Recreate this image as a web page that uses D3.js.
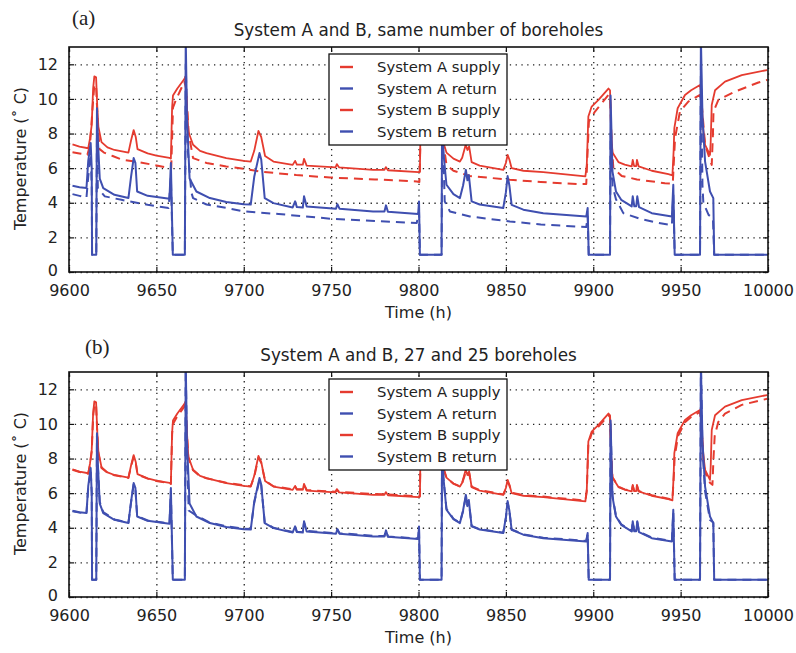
<!DOCTYPE html>
<html>
<head>
<meta charset="utf-8">
<script src="https://cdn.jsdelivr.net/npm/d3@7"></script>
<style>
body { margin: 0; background: #fff; }
svg text { font-family: "DejaVu Sans", sans-serif; fill: #222; }
</style>
</head>
<body>
<script>
// axis ticks
var xTicks = [9600, 9650, 9700, 9750, 9800, 9850, 9900, 9950, 10000];
var yTicks = [0, 2, 4, 6, 8, 10, 12];
var legendLabels = ["System A supply", "System A return", "System B supply", "System B return"];
var panelTitles = ["System A and B, same number of boreholes", "System A and B, 27 and 25 boreholes"];
var panelTags = ["(a)", "(b)"];

// System B supply [time h, temperature C] - same in both panels
var bSupply = [[9602,7.38],[9606,7.25],[9611,7.15],[9612,7.7],[9613,8.5],[9613.8,10.6],[9614.5,11.3],[9615.5,11.25],[9616.2,9.5],[9616.8,8.4],[9618.6,7.5],[9622,7.2],[9626,7.05],[9634,6.9],[9635.5,7.6],[9637,8.2],[9638.2,7.8],[9639.2,7.1],[9645,6.85],[9650,6.72],[9657.5,6.6],[9658.3,6.55],[9659,9.5],[9659.5,10.2],[9662,10.6],[9666,11.15],[9666.7,11.3],[9667.5,9.5],[9668.3,8.1],[9671,7.35],[9675,7.0],[9678.7,6.87],[9690,6.58],[9700,6.42],[9704,6.38],[9706,7.0],[9708.4,8.15],[9710,7.8],[9712.2,6.7],[9717,6.38],[9728,6.19],[9729.4,6.42],[9730.4,6.2],[9733.8,6.2],[9734.5,6.54],[9736,6.15],[9752.5,6.04],[9753.3,6.23],[9754.5,6.05],[9774,5.9],[9780.5,5.9],[9781.3,6.06],[9782.5,5.88],[9800,5.77],[9800.8,5.8],[9801.3,9.5],[9802,10.2],[9812.5,10.8],[9813.3,8.0],[9814.5,7.4],[9816,6.9],[9820,6.55],[9823.7,6.38],[9825,6.6],[9827,7.35],[9828,7.05],[9829,7.25],[9830.4,6.35],[9835,6.15],[9848.5,5.9],[9850,6.3],[9851,6.77],[9852,6.5],[9853.3,6.0],[9860,5.85],[9871.4,5.77],[9895.5,5.52],[9896.3,6.2],[9897.2,8.98],[9899.1,9.56],[9903,9.94],[9908.7,10.6],[9909.6,10.5],[9910.3,8.0],[9911,6.9],[9914.4,6.35],[9918,6.2],[9922,6.1],[9922.6,6.48],[9923.4,6.12],[9924.6,6.12],[9925,6.48],[9926,6.1],[9933.5,5.85],[9943,5.65],[9945.3,5.58],[9946,7.0],[9946.4,8.31],[9948.3,9.46],[9952.5,10.23],[9956,10.5],[9961.1,10.8],[9961.7,10.3],[9963,8.2],[9964,7.35],[9966.8,6.77],[9967.2,7.5],[9967.8,9.65],[9969.7,10.5],[9975.4,11.0],[9985,11.38],[9999.5,11.67]];

// System B return - same in both panels
var bReturn = [[9602,4.98],[9606,4.9],[9610,4.85],[9611,6.4],[9612.4,7.45],[9613,6.0],[9613.2,1],[9615.6,1],[9616,9.46],[9616.6,7.5],[9617.6,5.4],[9619.6,4.85],[9626,4.46],[9634,4.27],[9635.5,5.5],[9637,6.58],[9638,6.3],[9639,4.65],[9645,4.4],[9657.5,4.23],[9658.3,6.3],[9659.4,1],[9666.3,1],[9666.8,13.5],[9667.5,9],[9669,5.4],[9672.9,4.65],[9680.6,4.27],[9690,4.05],[9700,3.92],[9704,3.9],[9706,5.5],[9709,6.87],[9710,6.5],[9712,4.27],[9717,3.98],[9728,3.73],[9729.4,4.08],[9730.4,3.75],[9733.8,3.72],[9734.5,4.37],[9736,3.79],[9752.8,3.65],[9753.6,3.92],[9754.8,3.66],[9774,3.5],[9780.5,3.5],[9781.4,3.85],[9782.5,3.48],[9799.8,3.35],[9800.3,4.08],[9800.8,1],[9813.2,1],[9813.6,12],[9814.2,6.96],[9816,5.04],[9820,4.5],[9823.7,4.27],[9825.5,5.0],[9827.1,5.9],[9828,5.3],[9828.8,5.6],[9830.4,4.08],[9835,3.9],[9848.5,3.7],[9850,4.6],[9851,5.54],[9852,5.0],[9853.3,3.88],[9860,3.6],[9871.4,3.4],[9896,3.2],[9896.8,3.7],[9897.4,1],[9909.6,1],[9909.9,10.2],[9911,5.8],[9913,4.65],[9916,4.17],[9922,3.79],[9922.6,4.37],[9923.5,3.8],[9924.6,3.8],[9925.2,4.37],[9926.2,3.75],[9933.5,3.4],[9945,3.21],[9945.8,5.04],[9946.6,1],[9961.1,1],[9961.6,13.5],[9962.5,9],[9964,6.38],[9966.8,4.65],[9968.7,4.27],[9969.2,1],[10000,1]];

// System A supply, panel (a)
var aSupplyA = [[9602,6.92],[9606,6.85],[9610.5,6.77],[9612,7.3],[9613.5,9.5],[9614.5,10.8],[9615.5,10.8],[9616.5,8.5],[9617.5,7.1],[9620,6.9],[9625,6.7],[9630,6.5],[9640,6.35],[9647.7,6.2],[9657.5,6.0],[9658.5,6.0],[9659.5,9.5],[9661,9.9],[9666,11.0],[9667,10.6],[9668.5,8.0],[9671,6.58],[9678.7,6.3],[9690,6.1],[9700,5.96],[9710,5.8],[9730,5.6],[9749.4,5.46],[9775,5.35],[9799,5.23],[9800.5,5.2],[9801.5,9.0],[9803,9.8],[9812.5,10.3],[9813.5,8.0],[9816,6.2],[9820,5.85],[9829.4,5.55],[9852.3,5.33],[9870,5.2],[9890.5,5.08],[9896,5.08],[9897.5,8.69],[9901,9.27],[9908.7,10.23],[9909.6,10.2],[9910.5,7.5],[9911.5,6.0],[9916.3,5.55],[9925,5.35],[9941,5.13],[9945.5,5.1],[9946.8,7.73],[9949.6,9.27],[9954.4,9.85],[9961.1,10.23],[9962,9.8],[9964,7.35],[9967.8,6.19],[9968.5,8.0],[9968.8,9.27],[9971.6,9.94],[9981.1,10.42],[9994.5,10.95],[9999.5,11.1]];

// System A return, panel (a)
var aReturnA = [[9602,4.5],[9606,4.4],[9610,4.3],[9611,5.5],[9612.4,6.8],[9613,5],[9613.2,1],[9615.6,1],[9616,8.0],[9616.5,4.85],[9620.5,4.37],[9630,4.17],[9645,3.88],[9657,3.7],[9658.3,5.5],[9659.4,1],[9666.3,1],[9666.8,12],[9668,7],[9670,4.6],[9671,4.27],[9678.7,3.9],[9690,3.7],[9700,3.5],[9720,3.35],[9749.4,3.08],[9775,2.95],[9799,2.83],[9800.3,3.5],[9800.8,1],[9813.2,1],[9813.6,9],[9815,4.08],[9818,3.5],[9829.4,3.21],[9852.3,2.92],[9870,2.75],[9890.5,2.63],[9896,2.6],[9896.8,3.2],[9897.4,1],[9909.6,1],[9909.9,8],[9911,5],[9913,4.2],[9917.2,3.4],[9926,3.1],[9937.3,2.83],[9945,2.7],[9945.8,4.5],[9946.6,1],[9961.1,1],[9961.6,12],[9962.5,5],[9963,4.0],[9966,3.3],[9968.5,3.1],[9969.2,1],[10000,1]];

// System A supply, panel (b)
var aSupplyB = [[9602,7.35],[9606,7.22],[9611,7.12],[9612,7.6],[9613,8.4],[9613.8,10.4],[9614.5,11.15],[9615.5,11.1],[9616.2,9.4],[9616.8,8.3],[9618.6,7.45],[9622,7.18],[9626,7.03],[9634,6.88],[9635.5,7.55],[9637,8.1],[9638.2,7.75],[9639.2,7.08],[9645,6.84],[9650,6.7],[9657.5,6.58],[9658.3,6.53],[9659,9.4],[9659.5,10.0],[9662,10.45],[9666,11.0],[9666.7,11.15],[9667.5,9.4],[9668.3,8.05],[9671,7.32],[9675,6.98],[9678.7,6.86],[9690,6.6],[9700,6.45],[9704,6.4],[9706,6.95],[9708.4,8.05],[9710,7.75],[9712.2,6.72],[9717,6.4],[9728,6.22],[9729.4,6.38],[9730.4,6.22],[9733.8,6.22],[9734.5,6.48],[9736,6.18],[9752.5,6.08],[9753.3,6.2],[9754.5,6.08],[9774,5.95],[9780.5,5.93],[9781.3,6.03],[9782.5,5.92],[9800,5.82],[9800.8,5.84],[9801.3,9.3],[9802,10.0],[9812.5,10.6],[9813.3,7.9],[9814.5,7.35],[9816,6.88],[9820,6.55],[9823.7,6.4],[9825,6.58],[9827,7.2],[9828,7.0],[9829,7.15],[9830.4,6.38],[9835,6.18],[9848.5,5.93],[9850,6.25],[9851,6.65],[9852,6.45],[9853.3,6.03],[9860,5.88],[9871.4,5.8],[9895.5,5.57],[9896.3,6.1],[9897.2,8.8],[9899.1,9.45],[9903,9.85],[9908.7,10.5],[9909.6,10.4],[9910.3,7.9],[9911,6.92],[9914.4,6.38],[9918,6.22],[9922,6.12],[9922.6,6.42],[9923.4,6.14],[9924.6,6.14],[9925,6.42],[9926,6.12],[9933.5,5.88],[9943,5.68],[9945.3,5.62],[9946,6.8],[9946.6,8.1],[9948.5,9.3],[9952.5,10.1],[9956,10.4],[9961.1,10.7],[9961.7,10.2],[9963,8.0],[9964,7.2],[9966.8,6.6],[9968.2,6.48],[9968.8,8.0],[9969.5,9.3],[9971.5,10.1],[9975.4,10.6],[9985,11.1],[9999.5,11.45]];

// System A return, panel (b)
var aReturnB = [[9602,4.96],[9606,4.88],[9610,4.83],[9611,6.3],[9612.4,7.35],[9613,6.0],[9613.2,1],[9615.6,1],[9616,9.3],[9616.6,7.4],[9617.6,5.5],[9619.6,4.9],[9626,4.48],[9634,4.29],[9635.5,5.45],[9637,6.5],[9638,6.25],[9639,4.68],[9645,4.42],[9657.5,4.25],[9658.3,6.1],[9659.4,1],[9666.3,1],[9666.8,13.5],[9667.5,8.5],[9668.5,5.0],[9672.9,4.7],[9680.6,4.3],[9690,4.08],[9700,3.95],[9704,3.93],[9706,5.45],[9709,6.75],[9710,6.45],[9712,4.3],[9717,4.0],[9728,3.76],[9729.4,4.05],[9730.4,3.77],[9733.8,3.75],[9734.5,4.3],[9736,3.82],[9752.8,3.68],[9753.6,3.9],[9754.8,3.69],[9774,3.53],[9780.5,3.53],[9781.4,3.82],[9782.5,3.5],[9799.8,3.38],[9800.3,4.0],[9800.8,1],[9813.2,1],[9813.6,12],[9814.2,6.9],[9816,5.1],[9820,4.52],[9823.7,4.3],[9825.5,4.95],[9827.1,5.8],[9828,5.25],[9828.8,5.5],[9830.4,4.1],[9835,3.92],[9848.5,3.72],[9850,4.55],[9851,5.45],[9852,4.95],[9853.3,3.9],[9860,3.62],[9871.4,3.43],[9896,3.24],[9896.8,3.65],[9897.4,1],[9909.6,1],[9909.9,10.0],[9911,5.85],[9913,4.68],[9916,4.2],[9922,3.82],[9922.6,4.33],[9923.5,3.82],[9924.6,3.82],[9925.2,4.33],[9926.2,3.78],[9933.5,3.43],[9945,3.24],[9945.8,4.9],[9946.6,1],[9961.1,1],[9961.6,13.5],[9962.5,8.5],[9964,6.1],[9966.8,4.45],[9968.7,4.3],[9969.2,1],[10000,1]];

var W = 796, H = 653;
var red = "#e53b2f", blue = "#3f4fb0";
var left = 69, right = 768, ph = 225;
var panelTops = [47, 372];

var svg = d3.select("body").append("svg")
    .attr("width", W)
    .attr("height", H);

var x = d3.scaleLinear().domain([9600, 10000]).range([0, right - left]);
var y = d3.scaleLinear().domain([0, 13]).range([ph, 0]);

var line = d3.line()
    .x(function(d){ return x(d[0]); })
    .y(function(d){ return y(d[1]); });

var panels = [
    { a: aSupplyA, ar: aReturnA },
    { a: aSupplyB, ar: aReturnB }
];

panels.forEach(function(p, i){
    var g = svg.append("g").attr("transform", "translate(" + left + "," + panelTops[i] + ")");
    var pw = right - left;

    g.append("clipPath").attr("id", "clip" + i)
        .append("rect").attr("width", pw).attr("height", ph);

    // dotted grid
    g.append("g").attr("class", "grid")
        .attr("transform", "translate(0," + ph + ")")
        .call(d3.axisBottom(x).tickValues(xTicks).tickSize(-ph).tickFormat(""));
    g.append("g").attr("class", "grid")
        .call(d3.axisLeft(y).tickValues(yTicks).tickSize(-pw).tickFormat(""));
    g.selectAll(".grid .domain").remove();
    g.selectAll(".grid line")
        .attr("stroke", "#222")
        .attr("stroke-width", 1.3)
        .attr("stroke-dasharray", "1.3,4.5");

    // series: A dashed first, then B solid
    var series = [
        { d: p.a, c: red, dash: "9,6", w: 2 },
        { d: p.ar, c: blue, dash: "9,6", w: 2 },
        { d: bSupply, c: red, dash: null, w: 1.8 },
        { d: bReturn, c: blue, dash: null, w: 2 }
    ];
    var lines = g.append("g").attr("clip-path", "url(#clip" + i + ")");
    series.forEach(function(s){
        lines.append("path")
            .datum(s.d)
            .attr("d", line)
            .attr("fill", "none")
            .attr("stroke", s.c)
            .attr("stroke-width", s.w)
            .attr("stroke-linejoin", "round")
            .attr("stroke-dasharray", s.dash);
    });

    // inward ticks on all four sides
    var xb = g.append("g").attr("transform", "translate(0," + ph + ")")
        .call(d3.axisBottom(x).tickValues(xTicks).tickSize(-5).tickPadding(13).tickFormat(d3.format("d")));
    var xt = g.append("g")
        .call(d3.axisTop(x).tickValues(xTicks).tickSize(-5).tickFormat(""));
    var yl = g.append("g")
        .call(d3.axisLeft(y).tickValues(yTicks).tickSize(-5).tickPadding(11).tickFormat(d3.format("d")));
    var yr = g.append("g").attr("transform", "translate(" + pw + ",0)")
        .call(d3.axisRight(y).tickValues(yTicks).tickSize(-5).tickFormat(""));
    [xb, xt, yl, yr].forEach(function(a){
        a.select(".domain").remove();
        a.selectAll("line").attr("stroke", "#111").attr("stroke-width", 1.2);
        a.selectAll("text").style("font-size", "16px").attr("fill", "#222");
    });
    xb.selectAll("text").attr("dy", "0.71em");
    // lift the "0" label a touch so it clears the first time label
    yl.selectAll("text").filter(function(d){ return d === 0; }).attr("dy", "0.2em");

    g.append("rect")
        .attr("width", pw).attr("height", ph)
        .attr("fill", "none")
        .attr("stroke", "#111")
        .attr("stroke-width", 1.6);

    // legend
    var lg = g.append("g").attr("transform", "translate(" + (329 - left) + "," + (54 - 47) + ")");
    lg.append("rect")
        .attr("width", 178).attr("height", 91)
        .attr("fill", "#fff")
        .attr("stroke", "#111")
        .attr("stroke-width", 1.3);
    legendLabels.forEach(function(lab, k){
        var s = series[k];
        var yy = 13 + k * 21.5;
        lg.append("line")
            .attr("x1", 11).attr("x2", 24)
            .attr("y1", yy).attr("y2", yy)
            .attr("stroke", s.c)
            .attr("stroke-width", 2.4);
        lg.append("text")
            .attr("x", 48).attr("y", yy + 5)
            .style("font-size", "14.8px")
            .text(lab);
    });

    // titles and labels
    g.append("text")
        .attr("x", pw / 2).attr("y", -11)
        .attr("text-anchor", "middle")
        .style("font-size", "16.8px")
        .text(panelTitles[i]);
    g.append("text")
        .attr("x", pw / 2).attr("y", ph + 46)
        .attr("text-anchor", "middle")
        .style("font-size", "16px")
        .text("Time (h)");
    g.append("text")
        .attr("transform", "translate(" + (20 - left + 6) + "," + (ph / 2 - 1) + ") rotate(-90)")
        .attr("text-anchor", "middle")
        .style("font-size", "16px")
        .text("Temperature (˚ C)");
});

// panel tags
svg.selectAll(".tag")
    .data(panelTags)
    .enter()
    .append("text")
    .attr("class", "tag")
    .attr("x", function(d, i){ return i === 0 ? 72 : 85; })
    .attr("y", function(d, i){ return i === 0 ? 25 : 354; })
    .style("font-family", "'Liberation Serif', 'Times New Roman', serif")
    .style("font-size", "21px")
    .text(function(d){ return d; });
</script>
</body>
</html>
